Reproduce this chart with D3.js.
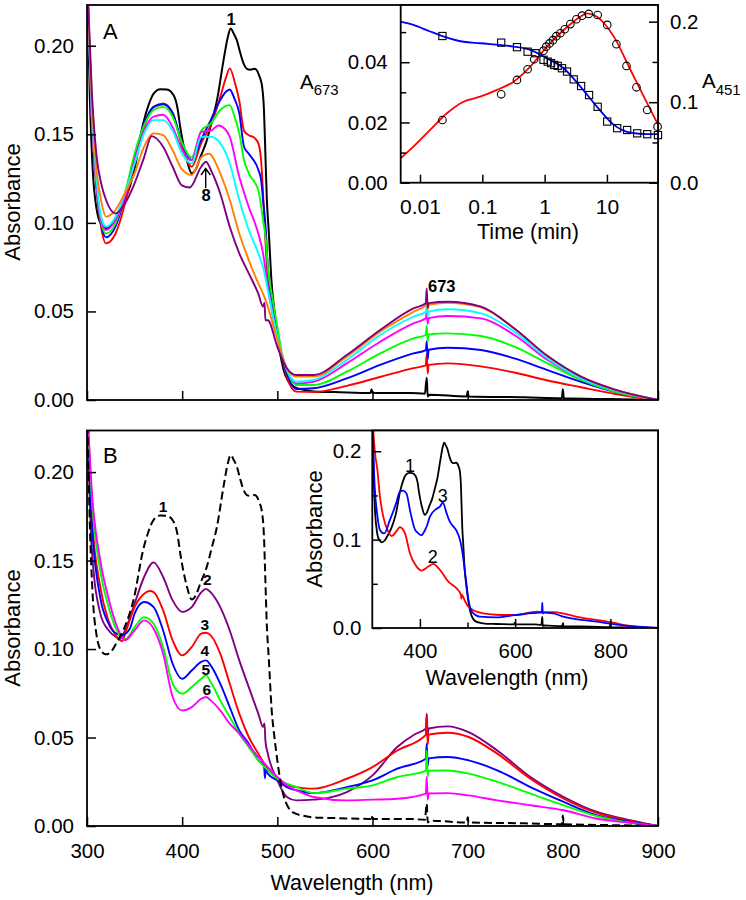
<!DOCTYPE html>
<html><head><meta charset="utf-8">
<script src="https://cdn.jsdelivr.net/npm/d3@7/dist/d3.min.js"></script>
<style>body{margin:0;background:#fff}svg{display:block}</style>
</head><body><svg id="c" width="746" height="900"></svg>
<script>
// ---------- DATA ----------
// Panel A spectra: [wavelength nm, absorbance]
const spec1 = [[300,0.24],[303,0.17],[306,0.13],[310,0.108],[315,0.099],[320,0.097],[326,0.099],[331,0.1035],[340,0.113],[349,0.128],[359,0.156],[365,0.167],[370,0.173],[377,0.1755],[384,0.1753],[391,0.172],[395,0.165],[398,0.154],[405,0.1354],[410,0.128],[414,0.13],[419,0.137],[426,0.1467],[431,0.157],[436.5,0.169],[443.5,0.1919],[448,0.205],[451,0.2097],[454,0.207],[457.5,0.203],[461,0.196],[464.5,0.19],[468,0.187],[471.6,0.1865],[476,0.187],[478.6,0.186],[481,0.183],[484,0.177],[486,0.163],[487,0.1467],[489,0.113],[491,0.095],[494,0.066],[497,0.05],[500,0.037],[503,0.026],[506.6,0.017],[511,0.011],[517,0.0075],[530,0.0055],[542,0.0047],[560,0.0045],[598,0.004],[599,0.006],[600,0.004],[640,0.004],[655,0.0035],[657,0.0126],[658,0.002],[660,0.003],[699,0.002],[700,0.005],[701,0.002],[760,0.0015],[799,0.001],[800,0.006],[801,0.001],[850,0.0005],[900,0.0]];
const specA2 = [[300,0.24],[305,0.16],[310,0.12],[315,0.097],[320,0.0884],[330,0.094],[340,0.111],[350,0.1354],[360,0.154],[370,0.1655],[380,0.1674],[390,0.162],[400,0.143],[410,0.1317],[420,0.145],[430,0.155],[440,0.171],[446,0.182],[450,0.1872],[455,0.18],[460,0.169],[465,0.152],[470,0.1495],[476,0.148],[480,0.145],[483,0.135],[485,0.117],[487,0.095],[490,0.0677],[495,0.05],[500,0.038],[505,0.024],[510,0.013],[520,0.0047],[540,0.0045],[573,0.008],[608,0.013],[643,0.018],[656,0.0195],[657,0.026],[658,0.015],[659,0.0198],[679,0.0207],[714,0.019],[749,0.0155],[784,0.011],[819,0.0072],[854,0.0035],[880,0.0012],[900,0]];
const specA3 = [[300,0.24],[305,0.16],[310,0.12],[315,0.099],[320,0.0918],[330,0.098],[340,0.115],[350,0.137],[360,0.156],[370,0.1655],[380,0.167],[390,0.162],[400,0.145],[410,0.1354],[420,0.147],[430,0.158],[440,0.1693],[446,0.174],[450,0.1753],[455,0.17],[460,0.162],[465,0.143],[470,0.139],[480,0.13],[483,0.124],[485,0.113],[488,0.095],[490,0.075],[495,0.055],[500,0.038],[505,0.024],[510,0.015],[520,0.0062],[538,0.0066],[573,0.0122],[608,0.0198],[643,0.0263],[656,0.0282],[657,0.033],[658,0.023],[659,0.0284],[679,0.0295],[714,0.0282],[749,0.0235],[784,0.0169],[819,0.0103],[854,0.0047],[900,0]];
const specA4 = [[300,0.24],[305,0.16],[310,0.122],[315,0.1],[320,0.094],[330,0.0997],[340,0.117],[350,0.139],[360,0.155],[370,0.1637],[380,0.1655],[390,0.16],[400,0.145],[410,0.137],[420,0.152],[430,0.156],[440,0.1637],[450,0.1665],[455,0.16],[460,0.1505],[465,0.1354],[470,0.128],[480,0.1185],[485,0.1016],[488,0.09],[490,0.075],[495,0.057],[500,0.0414],[505,0.026],[510,0.017],[520,0.0085],[538,0.0085],[573,0.016],[608,0.0263],[643,0.0348],[656,0.0367],[657,0.042],[658,0.033],[659,0.037],[679,0.0376],[714,0.0361],[749,0.0301],[784,0.0207],[819,0.0113],[854,0.0047],[900,0]];
const specA5 = [[300,0.24],[305,0.16],[310,0.122],[315,0.101],[320,0.096],[330,0.1016],[340,0.115],[350,0.1354],[360,0.152],[370,0.16],[380,0.161],[390,0.154],[400,0.141],[410,0.1354],[420,0.1514],[430,0.152],[438,0.155],[445,0.153],[450,0.1486],[460,0.126],[470,0.109],[480,0.094],[485,0.0828],[490,0.064],[500,0.0357],[510,0.017],[520,0.0094],[538,0.0103],[573,0.0207],[608,0.0329],[643,0.0433],[656,0.0461],[657,0.05],[658,0.043],[659,0.0462],[679,0.0474],[714,0.0461],[749,0.0367],[784,0.0226],[819,0.0122],[854,0.0056],[900,0]];
const specA6 = [[300,0.24],[305,0.165],[310,0.125],[315,0.103],[320,0.0978],[330,0.1035],[340,0.117],[350,0.1335],[360,0.1505],[370,0.158],[380,0.158],[390,0.152],[400,0.139],[410,0.1335],[420,0.1486],[430,0.1486],[440,0.145],[450,0.1335],[460,0.1129],[470,0.096],[480,0.0828],[485,0.075],[490,0.062],[500,0.0357],[510,0.017],[520,0.0103],[538,0.0113],[573,0.0226],[608,0.0367],[643,0.047],[656,0.0498],[657,0.054],[658,0.047],[659,0.0499],[679,0.0512],[714,0.0489],[749,0.0386],[784,0.0235],[819,0.0122],[854,0.0056],[900,0]];
const specA7 = [[300,0.24],[305,0.17],[310,0.13],[315,0.112],[320,0.1035],[328,0.106],[340,0.117],[350,0.128],[360,0.143],[370,0.1505],[380,0.1495],[390,0.141],[400,0.13],[410,0.127],[420,0.137],[428,0.139],[440,0.128],[450,0.1129],[460,0.094],[470,0.079],[480,0.0658],[485,0.06],[490,0.0527],[500,0.0339],[510,0.0179],[520,0.0132],[538,0.0132],[573,0.0245],[608,0.0386],[643,0.0498],[656,0.0536],[657,0.058],[658,0.051],[659,0.0537],[679,0.0549],[714,0.0523],[749,0.0404],[784,0.0248],[819,0.0132],[854,0.006],[900,0]];
const specA8 = [[300,0.24],[305,0.175],[310,0.138],[315,0.122],[320,0.1129],[330,0.1053],[340,0.111],[350,0.1223],[360,0.137],[368,0.149],[380,0.143],[390,0.1317],[400,0.121],[408,0.12],[420,0.1317],[425,0.1345],[430,0.13],[440,0.1166],[450,0.0978],[460,0.0828],[470,0.0715],[480,0.06],[485,0.0527],[486.5,0.055],[487.5,0.045],[490,0.045],[500,0.03],[510,0.0179],[520,0.0141],[538,0.0141],[573,0.0254],[608,0.0395],[643,0.0517],[656,0.0546],[657,0.063],[658,0.052],[659,0.0547],[679,0.0555],[714,0.0527],[749,0.0404],[784,0.0248],[819,0.0132],[854,0.006],[900,0]];

// Panel B spectra
const specB2 = [[300,0.24],[305,0.157],[314,0.12],[322,0.111],[330,0.107],[335,0.1058],[340,0.1105],[350,0.1256],[360,0.1407],[370,0.149],[380,0.1407],[390,0.1275],[400,0.121],[410,0.1237],[420,0.132],[425,0.134],[430,0.132],[440,0.1237],[450,0.1105],[460,0.0936],[470,0.0785],[480,0.0635],[485,0.056],[486.5,0.058],[487.5,0.048],[490,0.0409],[500,0.0258],[510,0.0164],[520,0.0145],[538,0.0149],[555,0.016],[573,0.0192],[600,0.0286],[626,0.0446],[645,0.052],[656,0.055],[657,0.0635],[658,0.052],[659,0.0551],[679,0.0563],[701,0.0531],[731,0.0427],[766,0.0277],[801,0.0164],[836,0.0079],[872,0.0032],[900,0]];
const specB3 = [[300,0.24],[305,0.176],[314,0.135],[322,0.117],[330,0.108],[337,0.1045],[340,0.1087],[350,0.1237],[360,0.1313],[366,0.1328],[370,0.1322],[380,0.1218],[390,0.1049],[400,0.0964],[410,0.1011],[420,0.1087],[425,0.1092],[430,0.1077],[440,0.0974],[450,0.0804],[460,0.0635],[470,0.0503],[480,0.0409],[490,0.0324],[500,0.0267],[510,0.023],[520,0.022],[538,0.0211],[573,0.0267],[600,0.0333],[626,0.0427],[656,0.0515],[657,0.0616],[658,0.046],[659,0.0517],[679,0.0527],[701,0.0503],[731,0.0409],[766,0.0267],[801,0.0154],[836,0.0073],[872,0.0028],[900,0]];
const specB4 = [[300,0.24],[305,0.172],[314,0.129],[322,0.115],[330,0.109],[337,0.108],[345,0.1115],[350,0.12],[360,0.1266],[370,0.1237],[380,0.1105],[390,0.0917],[400,0.0832],[410,0.0879],[420,0.0927],[425,0.0936],[430,0.0908],[440,0.0804],[450,0.0672],[460,0.054],[470,0.0465],[480,0.0371],[486,0.034],[487,0.027],[488,0.033],[490,0.0296],[500,0.0258],[510,0.022],[520,0.0202],[538,0.0186],[573,0.022],[600,0.0258],[626,0.0324],[656,0.038],[657,0.0465],[658,0.034],[659,0.0382],[679,0.039],[701,0.0371],[731,0.0315],[766,0.022],[801,0.0136],[836,0.006],[872,0.0023],[900,0]];
const specB5 = [[300,0.24],[305,0.186],[314,0.144],[322,0.125],[330,0.112],[340,0.1055],[350,0.1124],[360,0.118],[370,0.1143],[380,0.1011],[390,0.0804],[400,0.0748],[410,0.0785],[420,0.0832],[425,0.0851],[430,0.0814],[440,0.071],[450,0.0616],[460,0.0522],[470,0.0446],[480,0.0371],[490,0.0315],[500,0.0267],[510,0.0239],[520,0.022],[538,0.0186],[573,0.0211],[600,0.023],[626,0.0277],[656,0.0311],[657,0.0427],[658,0.028],[659,0.0312],[679,0.0314],[701,0.0296],[731,0.0249],[766,0.0183],[801,0.0117],[836,0.0055],[872,0.0017],[900,0]];
const specB6 = [[300,0.24],[305,0.19],[314,0.15],[322,0.13],[330,0.115],[340,0.105],[350,0.1105],[360,0.1162],[370,0.1115],[380,0.0974],[390,0.0729],[400,0.0653],[410,0.0672],[420,0.0719],[425,0.0729],[430,0.071],[440,0.0653],[450,0.0578],[460,0.0522],[470,0.0456],[480,0.039],[490,0.0333],[500,0.0277],[510,0.023],[520,0.0202],[538,0.0164],[573,0.0145],[600,0.0149],[626,0.0154],[656,0.0183],[657,0.0277],[658,0.015],[659,0.0184],[679,0.0186],[701,0.0173],[731,0.0145],[766,0.0117],[801,0.0089],[836,0.0041],[872,0.0017],[900,0]];

// Inset B spectra (curve 1 is spec1)
const insetB2 = [[300,0.24],[305.7,0.198],[310.6,0.179],[316,0.149],[323,0.126],[333.6,0.109],[340.7,0.104],[350,0.109],[358,0.114],[368.7,0.107],[379,0.0846],[393,0.0695],[403.7,0.065],[417.6,0.0695],[428,0.0725],[442,0.0657],[459.7,0.0525],[477,0.0449],[486,0.038],[487,0.033],[488,0.0374],[495,0.03],[502,0.0241],[526,0.0173],[560,0.015],[582,0.0147],[600,0.0147],[645,0.0185],[666,0.0178],[680,0.018],[736,0.0121],[806,0.006],[841,0.0023],[900,0]];
const insetB3 = [[300,0.24],[305,0.16],[310,0.13],[316,0.111],[325,0.107],[337,0.1223],[350,0.141],[358,0.1544],[365,0.1555],[372,0.152],[379,0.1336],[390,0.111],[395,0.108],[403,0.105],[410,0.11],[415,0.116],[421,0.126],[435,0.135],[442,0.1374],[448,0.142],[456,0.13],[463,0.12],[470,0.115],[477,0.11],[484,0.1],[488,0.09],[495,0.062],[502,0.0317],[509,0.0185],[526,0.0128],[560,0.012],[600,0.0145],[652,0.0173],[656,0.0173],[657,0.0287],[658,0.0165],[660,0.0173],[680,0.0165],[701,0.0128],[771,0.0072],[841,0.0023],[900,0]];

// Inset A kinetics
const timeSquares = [0.0229,0.201,0.36,0.533,0.71,0.96,1.12,1.27,1.43,1.62,1.9,2.29,2.93,3.85,5.17,7.1,10.1,14.6,21.1,30.6,44.3,66];
const a673Squares = [0.0487,0.0465,0.045,0.0435,0.043,0.0408,0.0402,0.0397,0.0391,0.0388,0.038,0.0369,0.0343,0.0321,0.0291,0.0252,0.0203,0.0181,0.0175,0.0164,0.0161,0.0158];
const timeCircles = [0.0229,0.201,0.36,0.533,0.68,0.96,1.06,1.2,1.36,1.54,1.79,2.1,2.59,3.23,3.98,5.1,7.1,10.1,14.2,20.6,29.8,44.3,65];
const a451Circles = [0.0779,0.1098,0.1276,0.1409,0.1533,0.164,0.169,0.173,0.177,0.182,0.1856,0.1906,0.197,0.203,0.2075,0.2096,0.2083,0.196,0.172,0.145,0.1185,0.0903,0.0696];
const fitA451 = [[0.0049,0.0303],[0.00783,0.0447],[0.01453,0.0655],[0.027,0.0862],[0.0499,0.1006],[0.0925,0.1068],[0.172,0.1152],[0.318,0.1255],[0.589,0.1441],[1.09,0.169],[2.02,0.1897],[3.75,0.2062],[4.8,0.2104],[6.95,0.2062],[12.9,0.1814],[23.9,0.14],[44.3,0.0986],[66.5,0.0717]];
const fitA673 = [[0.0049,0.0535],[0.00783,0.0524],[0.01453,0.0502],[0.0229,0.0487],[0.0499,0.0468],[0.0925,0.0463],[0.318,0.0452],[0.589,0.0441],[1.09,0.0413],[2.02,0.038],[3.75,0.0319],[6.95,0.0252],[12.9,0.0192],[23.9,0.0166],[44.3,0.0161],[66.5,0.0161]];

// Ticks and labels
const wlTicks = [300,400,500,600,700,800,900];
const wlLabels = ['300','400','500','600','700','800','900'];
const absTicks = [0,0.05,0.10,0.15,0.20];
const absLabels = ['0.00','0.05','0.10','0.15','0.20'];
const timeTicks = [0.01,0.1,1,10];
const timeLabels = ['0.01','0.1','1','10'];
const a673Major = [0,0.02,0.04];
const a673Labels = ['0.00','0.02','0.04'];
const a673Minor = [0.01,0.03,0.05];
const a451Major = [0,0.1,0.2];
const a451Labels = ['0.0','0.1','0.2'];
const a451Minor = [0.05,0.15];
const insWlMajor = [400,600,800];
const insWlLabels = ['400','600','800'];
const insWlMinor = [500,700];
const insAbsMajor = [0,0.1,0.2];
const insAbsLabels = ['0.0','0.1','0.2'];
const insAbsMinor = [0.05,0.15];

// ---------- DRAW ----------
const FONT = 'Arial, "Liberation Sans", sans-serif';
const svg = d3.select('#c');
const defs = svg.append('defs');
function clip(id,x0,y0,x1,y1){defs.append('clipPath').attr('id',id).append('rect').attr('x',x0).attr('y',y0).attr('width',x1-x0).attr('height',y1-y0);}

const L=87, R=658;
const xA = d3.scaleLinear([300,900],[L,R]);
const yA = d3.scaleLinear([0,0.223],[400,5]);
const yB = d3.scaleLinear([0,0.2235],[826,430.5]);
clip('cA',L,5,R,400); clip('cB',L,430.5,R,826);

function styleAxis(g,fs){
  g.select('.domain').remove();
  g.attr('font-family',FONT).attr('font-size',fs);
  g.selectAll('line').attr('stroke','#000').attr('stroke-width',1.5);
  g.selectAll('text').attr('fill','#000');
}
function drawSpectra(g,list,x,y,clipId){
  const line = d3.line().x(d=>x(d[0])).y(d=>y(d[1])).curve(d3.curveMonotoneX);
  const gg = g.append('g').attr('clip-path',`url(#${clipId})`);
  list.forEach(s=>{
    gg.append('path').attr('d',line(s.data)).attr('fill','none').attr('stroke',s.color)
      .attr('stroke-width',s.w||1.9).attr('stroke-dasharray',s.dash||null).attr('stroke-linejoin','round');
  });
}
function frame(x0,y0,x1,y1,fill){
  return svg.append('rect').attr('x',x0).attr('y',y0).attr('width',x1-x0).attr('height',y1-y0)
    .attr('fill',fill||'none').attr('stroke','#000').attr('stroke-width',1.8);
}
function txt(x,y,s,opt){
  const t=svg.append('text').attr('x',x).attr('y',y).attr('font-family',FONT).attr('fill','#000')
    .attr('font-size',opt.fs).attr('text-anchor',opt.anchor||'start').attr('font-weight',opt.bold?'bold':null);
  if(opt.rot) t.attr('transform',`rotate(-90,${x},${y})`);
  t.text(s); return t;
}

// ----- Panel A -----
const gA = svg.append('g');
drawSpectra(gA,[
  {data:spec1,color:'#000000',w:2},
  {data:specA2,color:'#ff0000'},
  {data:specA3,color:'#0000ff'},
  {data:specA4,color:'#00ff00'},
  {data:specA5,color:'#ff00ff'},
  {data:specA6,color:'#00ffff'},
  {data:specA7,color:'#ff8000'},
  {data:specA8,color:'#800080'}
],xA,yA,'cA');
svg.append('g').attr('transform',`translate(0,400)`)
  .call(d3.axisBottom(xA).tickValues(wlTicks).tickFormat('').tickSize(-9).tickSizeOuter(0)).call(g=>styleAxis(g,20.5));
svg.append('g').attr('transform',`translate(${L},0)`)
  .call(d3.axisLeft(yA).tickValues(absTicks).tickFormat((d,i)=>absLabels[i]).tickSize(-9).tickPadding(13).tickSizeOuter(0)).call(g=>styleAxis(g,20.5));
frame(L,5,R,400);
txt(20,202,'Absorbance',{fs:22,anchor:'middle',rot:true});
txt(103,39,'A',{fs:22});
txt(231,25,'1',{fs:16.5,anchor:'middle',bold:true});
txt(206,201,'8',{fs:16.5,anchor:'middle',bold:true});
svg.append('path').attr('d','M205.7,188 L205.7,168.5 M201,175 L205.7,168.5 L210.4,175').attr('fill','none').attr('stroke','#000').attr('stroke-width',1.4);
txt(428,291.5,'673',{fs:16.5,bold:true});

// ----- Inset A -----
const iL=400.7;
const tS = d3.scaleLog([0.0049,66],[iL,R]);
const yL = d3.scaleLinear([0,0.059],[182.7,5]);
const yR = d3.scaleLinear([0,0.2207],[182.7,5]);
svg.append('rect').attr('x',iL).attr('y',5).attr('width',R-iL).attr('height',177.7).attr('fill','#fff');
clip('cIA',iL,5,R,182.7);
const gIA = svg.append('g').attr('clip-path','url(#cIA)');
gIA.append('path').attr('d',d3.line().x(d=>tS(d[0])).y(d=>yR(d[1])).curve(d3.curveMonotoneX)(fitA451))
  .attr('fill','none').attr('stroke','#ff0000').attr('stroke-width',1.8);
gIA.append('path').attr('d',d3.line().x(d=>tS(d[0])).y(d=>yL(d[1])).curve(d3.curveMonotoneX)(fitA673))
  .attr('fill','none').attr('stroke','#0000ff').attr('stroke-width',1.8);
const gMk = svg.append('g');
timeSquares.forEach((t,i)=>{
  gMk.append('rect').attr('x',tS(t)-3.6).attr('y',yL(a673Squares[i])-3.6).attr('width',7.2).attr('height',7.2)
    .attr('fill','none').attr('stroke','#000').attr('stroke-width',1.1);
});
timeCircles.forEach((t,i)=>{
  gMk.append('circle').attr('cx',tS(t)).attr('cy',yR(a451Circles[i])).attr('r',3.8)
    .attr('fill','none').attr('stroke','#000').attr('stroke-width',1.1);
});
svg.append('g').attr('transform','translate(0,182.7)')
  .call(d3.axisBottom(tS).tickValues(timeTicks).tickFormat((d,i)=>timeLabels[i]).tickSize(-8).tickPadding(16).tickSizeOuter(0)).call(g=>styleAxis(g,21));
svg.append('g').attr('transform',`translate(${iL},0)`)
  .call(d3.axisLeft(yL).tickValues(a673Major).tickFormat((d,i)=>a673Labels[i]).tickSize(-9).tickPadding(13).tickSizeOuter(0)).call(g=>styleAxis(g,20.5));
svg.append('g').attr('transform',`translate(${iL},0)`)
  .call(d3.axisLeft(yL).tickValues(a673Minor).tickFormat('').tickSize(-5.5).tickSizeOuter(0)).call(g=>styleAxis(g,20.5));
svg.append('g').attr('transform',`translate(${R},0)`)
  .call(d3.axisRight(yR).tickValues(a451Major).tickFormat((d,i)=>a451Labels[i]).tickSize(-9).tickPadding(12).tickSizeOuter(0)).call(g=>styleAxis(g,20.5));
svg.append('g').attr('transform',`translate(${R},0)`)
  .call(d3.axisRight(yR).tickValues(a451Minor).tickFormat('').tickSize(-5.5).tickSizeOuter(0)).call(g=>styleAxis(g,20.5));
frame(iL,5,R,182.7);
txt(528,239,'Time (min)',{fs:21.5,anchor:'middle'});
const t673 = svg.append('text').attr('x',300).attr('y',88.5).attr('font-family',FONT).attr('font-size',20.5).attr('fill','#000');
t673.append('tspan').text('A');
t673.append('tspan').attr('font-size',15).attr('dy',6.5).text('673');
const t451 = svg.append('text').attr('x',702).attr('y',88.3).attr('font-family',FONT).attr('font-size',20.5).attr('fill','#000');
t451.append('tspan').text('A');
t451.append('tspan').attr('font-size',15).attr('dy',6.5).text('451');

// ----- Panel B -----
const gB = svg.append('g');
drawSpectra(gB,[
  {data:specB2,color:'#800080'},
  {data:specB3,color:'#ff0000'},
  {data:specB4,color:'#0000ff'},
  {data:specB5,color:'#00ff00'},
  {data:specB6,color:'#ff00ff'},
  {data:spec1,color:'#000000',w:2,dash:'8,4'}
],xA,yB,'cB');
svg.append('g').attr('transform','translate(0,826)')
  .call(d3.axisBottom(xA).tickValues(wlTicks).tickFormat((d,i)=>wlLabels[i]).tickSize(-9).tickPadding(17).tickSizeOuter(0)).call(g=>styleAxis(g,20.5));
svg.append('g').attr('transform',`translate(${L},0)`)
  .call(d3.axisLeft(yB).tickValues(absTicks).tickFormat((d,i)=>absLabels[i]).tickSize(-9).tickPadding(13).tickSizeOuter(0)).call(g=>styleAxis(g,20.5));
frame(L,430.5,R,826);
txt(20,628,'Absorbance',{fs:22,anchor:'middle',rot:true});
txt(352,890,'Wavelength (nm)',{fs:21.5,anchor:'middle'});
txt(103,462.5,'B',{fs:22});
[['1',163,512],['2',207.3,585],['3',204.7,630],['4',204.7,656],['5',205.7,675],['6',206.7,695]]
  .forEach(a=>txt(a[1],a[2],a[0],{fs:15.5,anchor:'middle',bold:true}));

// ----- Inset B -----
const jL=372.3, jB=628;
const xI = d3.scaleLinear([300,900],[jL,R]);
const yI = d3.scaleLinear([0,0.2235],[jB,430.5]);
svg.append('rect').attr('x',jL).attr('y',430.5).attr('width',R-jL).attr('height',jB-430.5).attr('fill','#fff');
clip('cIB',jL,430.5,R,jB);
const gIB = svg.append('g');
drawSpectra(gIB,[
  {data:spec1,color:'#000000',w:1.8},
  {data:insetB2,color:'#ff0000',w:1.8},
  {data:insetB3,color:'#0000ff',w:1.8}
],xI,yI,'cIB');
svg.append('g').attr('transform',`translate(0,${jB})`)
  .call(d3.axisBottom(xI).tickValues(insWlMajor).tickFormat((d,i)=>insWlLabels[i]).tickSize(-9).tickPadding(15.5).tickSizeOuter(0)).call(g=>styleAxis(g,20.5));
svg.append('g').attr('transform',`translate(0,${jB})`)
  .call(d3.axisBottom(xI).tickValues(insWlMinor).tickFormat('').tickSize(-5.5).tickSizeOuter(0)).call(g=>styleAxis(g,20.5));
svg.append('g').attr('transform',`translate(${jL},0)`)
  .call(d3.axisLeft(yI).tickValues(insAbsMajor).tickFormat((d,i)=>insAbsLabels[i]).tickSize(-9).tickPadding(11).tickSizeOuter(0)).call(g=>styleAxis(g,20.5));
svg.append('g').attr('transform',`translate(${jL},0)`)
  .call(d3.axisLeft(yI).tickValues(insAbsMinor).tickFormat('').tickSize(-5.5).tickSizeOuter(0)).call(g=>styleAxis(g,20.5));
frame(jL,430.5,R,jB);
txt(321.5,529,'Absorbance',{fs:22,anchor:'middle',rot:true});
txt(507,685,'Wavelength (nm)',{fs:21.5,anchor:'middle'});
txt(410,471.5,'1',{fs:18,anchor:'middle'});
txt(442.7,501.5,'3',{fs:18,anchor:'middle'});
txt(432.7,562.5,'2',{fs:18,anchor:'middle'});
</script></body></html>
